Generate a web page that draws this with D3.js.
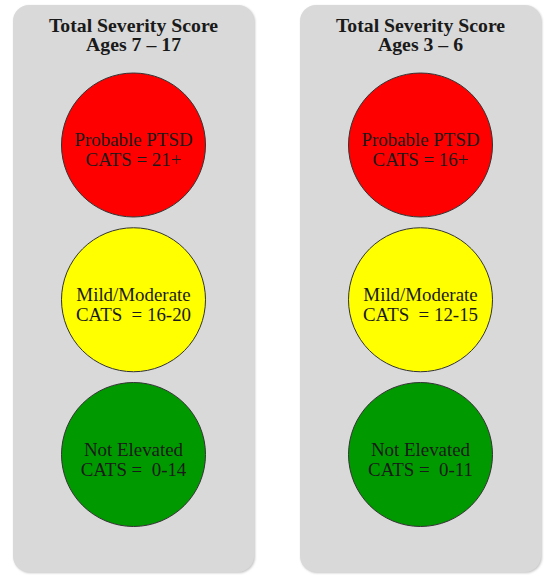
<!DOCTYPE html>
<html>
<head>
<meta charset="utf-8">
<script src="https://cdn.jsdelivr.net/npm/d3@7"></script>
<style>
  html, body { margin: 0; padding: 0; background: #fff; }
  svg { display: block; }
  text { font-family: "Liberation Serif", "Times New Roman", serif; fill: #1a1a1a; white-space: pre; }
</style>
</head>
<body>
<svg id="chart" width="546" height="576"></svg>
<script>
// données
const panneaux = ["Total Severity Score", "Total Severity Score"];
const ages = ["Ages 7 \u2013 17", "Ages 3 \u2013 6"];
const niveaux = ["Probable PTSD", "Mild/Moderate", "Not Elevated"];
const couleurs = ["#ff0000", "#ffff00", "#009900"];
const seuils = [
  ["CATS = 21+", "CATS  = 16-20", "CATS =  0-14"],
  ["CATS = 16+", "CATS  = 12-15", "CATS =  0-11"]
];

const svg = d3.select("#chart");

let largeurPanneau = 241;
let rayon = 72;

// échelles
const x = d3.scalePoint().domain(d3.range(panneaux.length)).range([133.5, 420.5]);
const y = d3.scalePoint().domain(niveaux).range([145, 454.5]);
const couleur = d3.scaleOrdinal().domain(niveaux).range(couleurs);

const ombre = svg.append("defs").append("filter").attr("id", "ombre")
  .attr("x", "-10%").attr("y", "-10%").attr("width", "120%").attr("height", "120%");
ombre.append("feGaussianBlur").attr("stdDeviation", 1.2);

// panneaux
const g = svg.selectAll(".panneau")
  .data(panneaux)
  .join("g")
  .attr("class", "panneau")
  .attr("transform", (d, i) => `translate(${x(i)},0)`);

g.append("rect")
  .attr("x", -largeurPanneau / 2 + 1)
  .attr("y", 6)
  .attr("width", largeurPanneau)
  .attr("height", 567)
  .attr("rx", 16)
  .attr("fill", "#c4c4c4")
  .attr("filter", "url(#ombre)");

g.append("rect")
  .attr("x", -largeurPanneau / 2)
  .attr("y", 5)
  .attr("width", largeurPanneau)
  .attr("height", 567)
  .attr("rx", 16)
  .attr("fill", "#d9d9d9");

// titres (police un peu élargie pour ressembler à Cambria)
g.append("text")
  .attr("text-anchor", "middle")
  .attr("transform", "translate(0,32) scale(1.07,1)")
  .style("font-weight", "bold")
  .style("font-size", "18.5px")
  .text(d => d);

g.append("text")
  .attr("text-anchor", "middle")
  .attr("transform", "translate(0,51) scale(1.07,1)")
  .style("font-weight", "bold")
  .style("font-size", "18.5px")
  .text((d, i) => ages[i]);

// feux
g.each(function(d, i) {
  const feux = d3.select(this)
    .selectAll(".feu")
    .data(niveaux)
    .join("g")
    .attr("class", "feu")
    .attr("transform", n => `translate(0,${y(n)})`);

  feux.append("circle")
    .attr("r", rayon)
    .attr("fill", n => couleur(n))
    .attr("stroke", "#333")
    .attr("stroke-width", 1);

  feux.append("text")
    .attr("text-anchor", "middle")
    .attr("transform", "translate(0,1) scale(1.05,1)")
    .style("font-size", "18px")
    .text(n => n);

  feux.append("text")
    .attr("text-anchor", "middle")
    .attr("transform", "translate(0,21) scale(1.05,1)")
    .style("font-size", "18px")
    .text((n, j) => seuils[i][j]);
});
</script>
</body>
</html>
